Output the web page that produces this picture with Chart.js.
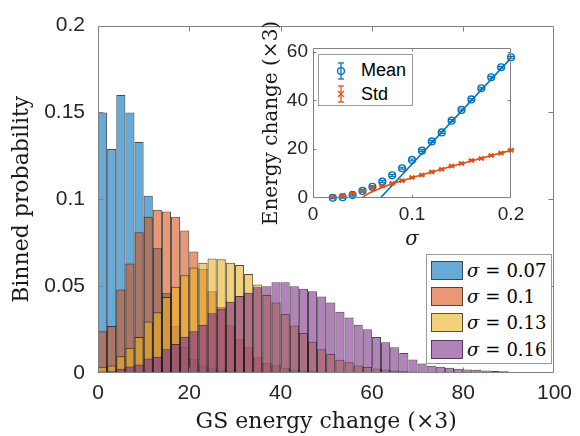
<!DOCTYPE html>
<html>
<head>
<meta charset="utf-8">
<script src="https://cdn.jsdelivr.net/npm/chart.js@4.4.0/dist/chart.umd.min.js"></script>
<style>
  body { margin: 0; background: #fff; }
  #wrap { position: relative; width: 580px; height: 436px; overflow: hidden; background: #fff; }
  #wrap canvas { position: absolute; }
  .legend { position: absolute; background: #fff; border: 1px solid #9a9a9a; box-sizing: border-box; }
  .row { position: absolute; left: 0; right: 0; height: 26px; display: flex; align-items: center; }
  .swatch { width: 32px; height: 19px; box-sizing: border-box; border: 1px solid rgba(40,40,40,0.75); margin-left: 4px; }
  .hist-text { font-family: 'DejaVu Serif', serif; font-size: 18px; color: #000; margin-left: 4px; white-space: nowrap; }
  .hist-text i { margin-right: 6px; }
  .hist-text b { font-weight: normal; margin-right: 6px; }
  .inset-text { font-family: 'Liberation Sans', Arial, sans-serif; font-size: 18px; color: #000; position: absolute; left: 42px; }
  .sym { position: absolute; left: 14px; }
</style>
</head>
<body>
<div id="wrap">
  <canvas id="histChart" width="580" height="436" style="left:0;top:0"></canvas>
  <canvas id="insetChart" width="300" height="260" style="left:250px;top:0"></canvas>
  <div id="histLegend" class="legend" style="left:426px;top:254px;width:126px;height:110px"></div>
  <div id="insetLegend" class="legend" style="left:318px;top:54px;width:95px;height:52px"></div>
</div>
<script>
// histogram bins (width 2, centres)
const binCenters = [1, 3, 5, 7, 9, 11, 13, 15, 17, 19, 21, 23, 25, 27, 29, 31, 33, 35, 37, 39,
  41, 43, 45, 47, 49, 51, 53, 55, 57, 59, 61, 63, 65, 67, 69, 71, 73, 75, 77, 79,
  81, 83, 85, 87, 89, 91, 93, 95, 97, 99];

// binned probability, one value per bin from the left (missing bins are empty)
const sigma007 = [0.150, 0.129, 0.160, 0.150, 0.133, 0.102, 0.072, 0.046, 0.027, 0.015,
  0.008, 0.0045, 0.003, 0.002, 0.001, 0.0005, 0.0003];
const sigma010 = [0.024, 0.027, 0.048, 0.063, 0.081, 0.090, 0.094, 0.093, 0.090, 0.082,
  0.070, 0.060, 0.047, 0.038, 0.0275, 0.0195, 0.0148, 0.009, 0.0058, 0.0045,
  0.003, 0.002, 0.0015, 0.001, 0.0006, 0.0004, 0.0002];
const sigma013 = [0.0036, 0.0043, 0.0096, 0.0145, 0.0207, 0.0297, 0.035, 0.0438, 0.0496, 0.0563,
  0.0607, 0.0635, 0.0659, 0.0655, 0.0635, 0.0622, 0.057, 0.051, 0.0449, 0.0406,
  0.034, 0.0274, 0.0231, 0.018, 0.0137, 0.011, 0.0077, 0.0062, 0.0043, 0.0034,
  0.0026, 0.002, 0.0015, 0.001, 0.0008, 0.0005, 0.0003, 0.0002];
const sigma016 = [0.0008, 0.001, 0.0024, 0.0038, 0.0049, 0.0083, 0.0094, 0.0137, 0.0167, 0.0208,
  0.024, 0.0278, 0.0344, 0.037, 0.041, 0.0443, 0.0462, 0.0494, 0.050, 0.0522,
  0.0522, 0.050, 0.0485, 0.047, 0.044, 0.0406, 0.0353, 0.032, 0.0278, 0.0252,
  0.0207, 0.0177, 0.0148, 0.0115, 0.0078, 0.0055, 0.0042, 0.0036, 0.003, 0.0025,
  0.002, 0.0018, 0.0014, 0.0012, 0.001, 0.0006, 0.0004, 0.0003];

const histSeries = [sigma007, sigma010, sigma013, sigma016];
const histSigmas = ['0.07', '0.1', '0.13', '0.16'];
const histColors = ['0,114,189', '217,83,25', '237,177,32', '126,47,142'];
const xTicks = [0, 20, 40, 60, 80, 100];
const yTicks = [0, 0.05, 0.1, 0.15, 0.2];

// inset: mean / std of the energy change vs sigma
const sigmaVals = [0.02, 0.03, 0.04, 0.05, 0.06, 0.07, 0.08, 0.09, 0.10, 0.11,
  0.12, 0.13, 0.14, 0.15, 0.16, 0.17, 0.18, 0.19, 0.20];
const meanVals = [0.1, 0.3, 1.2, 2.9, 4.6, 6.7, 9.3, 12.2, 15.6, 19.4,
  23.2, 26.9, 31.7, 36.1, 40.4, 45.0, 49.5, 53.6, 57.7];
const meanErr = [0.4, 0.4, 0.4, 0.4, 0.4, 0.4, 0.4, 0.4, 0.4, 0.4,
  0.4, 0.4, 0.4, 0.4, 0.4, 0.4, 0.4, 0.4, 0.4];
const stdVals = [0.4, 1.0, 1.9, 2.9, 4.2, 5.0, 6.0, 7.1, 8.4, 9.4,
  10.7, 11.8, 13.1, 14.1, 15.4, 16.2, 17.4, 18.4, 19.6];
const stdErr = [0.3, 0.3, 0.3, 0.3, 0.3, 0.3, 0.3, 0.3, 0.3, 0.3,
  0.3, 0.3, 0.3, 0.3, 0.3, 0.3, 0.3, 0.3, 0.3];
const meanFitSigma = [0.068, 0.2];
const meanFitVals = [0, 57.4];
const stdFitSigma = [0.049, 0.055, 0.06, 0.07, 0.08, 0.09, 0.1, 0.12, 0.14, 0.16, 0.18, 0.2];
const stdFitVals = [0, 1.6, 2.6, 4.3, 5.8, 7.1, 8.3, 10.7, 13.0, 15.2, 17.4, 19.5];
const insetXTicks = [0, 0.1, 0.2];
const insetYTicks = [0, 20, 40, 60];

const BLUE = 'rgb(0,114,189)';
const ORANGE = 'rgb(217,83,25)';
const sansFont = "'Liberation Sans', Arial, sans-serif";
const serifFont = "'DejaVu Serif', serif";

// box round the axes with ticks pointing inward (MATLAB style)
const boxTicks = {
  id: 'boxTicks',
  beforeDatasetsDraw(chart, args, opts) {
    if (!opts.fill) return;
    const { ctx, chartArea: a } = chart;
    ctx.save();
    ctx.fillStyle = opts.fill;
    ctx.fillRect(a.left, a.top, a.width, a.height);
    ctx.restore();
  },
  afterDatasetsDraw(chart, args, opts) {
    const { ctx, chartArea: a, scales } = chart;
    const L = Math.round(a.left) + 0.5, R = Math.round(a.right) - 0.5;
    const T = Math.round(a.top) + 0.5, B = Math.round(a.bottom) - 0.5;
    ctx.save();
    ctx.strokeStyle = opts.color;
    ctx.lineWidth = 1;
    ctx.beginPath();
    ctx.moveTo(L, T); ctx.lineTo(R, T); ctx.lineTo(R, B); ctx.lineTo(L, B); ctx.closePath();
    scales.x.ticks.forEach(t => {
      const px = Math.round(scales.x.getPixelForValue(t.value)) + 0.5;
      if (px <= L + 1 || px >= R - 1) return;
      ctx.moveTo(px, B); ctx.lineTo(px, B - opts.len);
      ctx.moveTo(px, T); ctx.lineTo(px, T + opts.len);
    });
    scales.y.ticks.forEach(t => {
      const py = Math.round(scales.y.getPixelForValue(t.value)) + 0.5;
      if (py <= T + 1 || py >= B - 1) return;
      ctx.moveTo(L, py); ctx.lineTo(L + opts.len, py);
      ctx.moveTo(R, py); ctx.lineTo(R - opts.len, py);
    });
    ctx.stroke();
    ctx.restore();
  }
};

// vertical error bars with caps
const errorBars = {
  id: 'errorBars',
  afterDatasetsDraw(chart) {
    const { ctx, scales: { y } } = chart;
    chart.data.datasets.forEach((ds, k) => {
      if (!ds.errors) return;
      const meta = chart.getDatasetMeta(k);
      ctx.save();
      ctx.strokeStyle = ds.borderColor;
      ctx.lineWidth = 1.2;
      meta.data.forEach((pt, i) => {
        const v = ds.data[i].y, e = ds.errors[i];
        const yTop = y.getPixelForValue(v + e), yBot = y.getPixelForValue(v - e);
        ctx.beginPath();
        ctx.moveTo(pt.x, yTop); ctx.lineTo(pt.x, yBot);
        ctx.moveTo(pt.x - 3, yTop); ctx.lineTo(pt.x + 3, yTop);
        ctx.moveTo(pt.x - 3, yBot); ctx.lineTo(pt.x + 3, yBot);
        ctx.stroke();
      });
      ctx.restore();
    });
  }
};

// main histogram
new Chart(document.getElementById('histChart'), {
  type: 'bar',
  data: {
    datasets: histSeries.map((vals, k) => ({
      label: 'σ = ' + histSigmas[k],
      data: binCenters.map((x, i) => ({ x, y: vals[i] == null ? null : vals[i] })),
      backgroundColor: `rgba(${histColors[k]},0.6)`,
      borderColor: 'rgba(30,30,30,0.8)',
      borderWidth: 1,
      borderSkipped: false,
      inflateAmount: 0,
      barPercentage: 1,
      categoryPercentage: 1,
      grouped: false,
      order: histSeries.length - k
    }))
  },
  options: {
    responsive: false,
    animation: false,
    devicePixelRatio: 1,
    layout: { padding: { left: 0, top: 17, right: 21, bottom: 0 } },
    plugins: {
      legend: { display: false },
      tooltip: { enabled: false },
      boxTicks: { color: '#808080', len: 5 }
    },
    scales: {
      x: {
        type: 'linear', min: 0, max: 100, offset: false,
        afterBuildTicks: s => { s.ticks = xTicks.map(v => ({ value: v })); },
        afterFit: s => { s.height = 63; },
        grid: { display: false, drawTicks: false },
        border: { display: false },
        ticks: { font: { family: sansFont, size: 21 }, color: '#262626', padding: 8, maxRotation: 0, callback: v => String(v) },
        title: { display: true, text: 'GS energy change (×3)', font: { family: serifFont, size: 22 }, color: '#1a1a1a', padding: { top: 0, bottom: 1 } }
      },
      y: {
        min: 0, max: 0.2,
        afterBuildTicks: s => { s.ticks = yTicks.map(v => ({ value: v })); },
        afterFit: s => { s.width = 98; },
        grid: { display: false, drawTicks: false },
        border: { display: false },
        ticks: { font: { family: sansFont, size: 21 }, color: '#262626', padding: 13, callback: v => String(v) },
        title: { display: true, text: 'Binned probability', font: { family: serifFont, size: 22 }, color: '#1a1a1a', padding: { top: 9, bottom: 0 } }
      }
    }
  },
  plugins: [boxTicks]
});

// inset chart
new Chart(document.getElementById('insetChart'), {
  type: 'scatter',
  data: {
    datasets: [
      {
        data: meanFitSigma.map((x, i) => ({ x, y: meanFitVals[i] })),
        showLine: true, pointRadius: 0, borderColor: BLUE, borderWidth: 1.6
      },
      {
        data: stdFitSigma.map((x, i) => ({ x, y: stdFitVals[i] })),
        showLine: true, pointRadius: 0, borderColor: ORANGE, borderWidth: 1.6,
        cubicInterpolationMode: 'monotone'
      },
      {
        data: sigmaVals.map((x, i) => ({ x, y: meanVals[i] })),
        pointStyle: 'circle', pointRadius: 3.4, pointBorderWidth: 1.4,
        borderColor: BLUE, backgroundColor: 'rgba(0,0,0,0)', errors: meanErr, clip: false
      },
      {
        data: sigmaVals.map((x, i) => ({ x, y: stdVals[i] })),
        pointStyle: 'crossRot', pointRadius: 3.2, pointBorderWidth: 1.4,
        borderColor: ORANGE, backgroundColor: ORANGE, errors: stdErr, clip: false
      }
    ]
  },
  options: {
    responsive: false,
    animation: false,
    devicePixelRatio: 1,
    layout: { padding: { left: 0, top: 48, right: 39, bottom: 0 } },
    plugins: {
      legend: { display: false },
      tooltip: { enabled: false },
      boxTicks: { color: '#808080', len: 3, fill: '#fff' }
    },
    scales: {
      x: {
        type: 'linear', min: 0, max: 0.2,
        afterBuildTicks: s => { s.ticks = insetXTicks.map(v => ({ value: v })); },
        afterFit: s => { s.height = 62; },
        grid: { display: false, drawTicks: false },
        border: { display: false },
        ticks: { font: { family: sansFont, size: 19 }, color: '#262626', padding: 5, maxRotation: 0, callback: v => String(v) },
        title: { display: true, text: 'σ', font: { family: serifFont, size: 20, style: 'italic' }, color: '#1a1a1a', padding: { top: 0, bottom: 8 } }
      },
      y: {
        min: 0, max: 61.5,
        afterBuildTicks: s => { s.ticks = insetYTicks.map(v => ({ value: v })); },
        afterFit: s => { s.width = 63; },
        grid: { display: false, drawTicks: false },
        border: { display: false },
        ticks: { font: { family: sansFont, size: 19 }, color: '#262626', padding: 5, callback: v => String(v) },
        title: { display: true, text: 'Energy change (×3)', font: { family: serifFont, size: 20 }, color: '#1a1a1a', padding: { top: 10, bottom: 0 } }
      }
    }
  },
  plugins: [boxTicks, errorBars]
});

// histogram legend
const histLegend = document.getElementById('histLegend');
const rowCentres = [15, 41, 67.5, 94];
histSigmas.forEach((s, k) => {
  const row = document.createElement('div');
  row.className = 'row';
  row.style.top = (rowCentres[k] - 13) + 'px';
  row.innerHTML = `<div class="swatch" style="background:rgba(${histColors[k]},0.6)"></div>` +
    `<span class="hist-text"><i>σ</i><b>=</b>${s}</span>`;
  histLegend.appendChild(row);
});

// inset legend
const insetLegend = document.getElementById('insetLegend');
const insetItems = [
  { label: 'Mean', color: BLUE, marker: '<circle cx="8" cy="10" r="3.4" fill="none"/>' },
  { label: 'Std', color: ORANGE, marker: '<line x1="5" y1="7" x2="11" y2="13"/><line x1="5" y1="13" x2="11" y2="7"/>' }
];
const insetCentres = [15.5, 39];
insetItems.forEach((it, k) => {
  const row = document.createElement('div');
  row.className = 'row';
  row.style.top = (insetCentres[k] - 13) + 'px';
  row.innerHTML = `<svg class="sym" width="16" height="20" viewBox="0 0 16 20"><g stroke="${it.color}" stroke-width="1.3" fill="none">` +
    `<line x1="8" y1="2" x2="8" y2="18"/><line x1="5" y1="2" x2="11" y2="2"/><line x1="5" y1="18" x2="11" y2="18"/>${it.marker}</g></svg>` +
    `<span class="inset-text">${it.label}</span>`;
  insetLegend.appendChild(row);
});
</script>
</body>
</html>
